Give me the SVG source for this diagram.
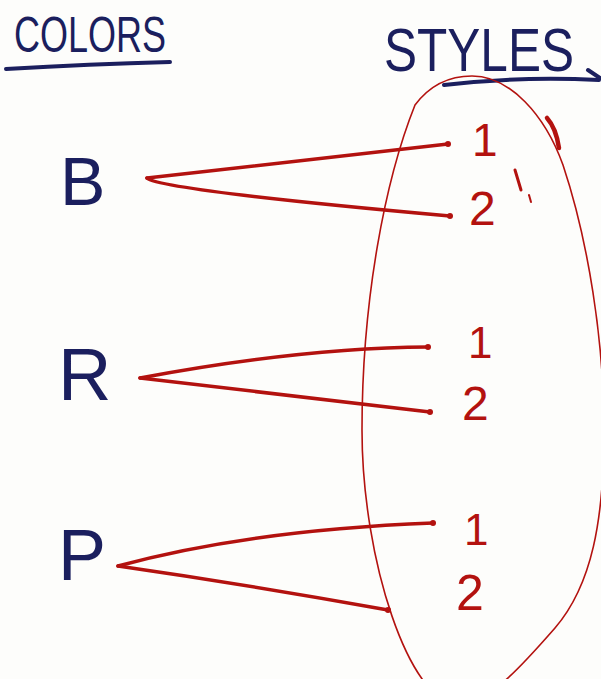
<svg xmlns="http://www.w3.org/2000/svg" width="601" height="679" viewBox="0 0 601 679">
<style>
.navy{fill:#1b1f5e;font-family:"Liberation Sans",sans-serif}
.red{fill:#b3120f;font-family:"Liberation Sans",sans-serif}
.ul{fill:none;stroke:#1b1f5e;stroke-width:4;stroke-linecap:round}
.edge{fill:none;stroke:#b3120f;stroke-width:3.5;stroke-linecap:round}
.dot{fill:#b3120f}
</style>
<rect width="601" height="679" fill="#fdfdfb"/>
<g id="heading-colors">
<text class="navy" x="14" y="52" font-size="50" textLength="152" lengthAdjust="spacingAndGlyphs">COLORS</text>
<path class="ul" d="M6 69 Q90 64 170 62"/>
</g>
<g id="heading-styles">
<text class="navy" x="384" y="71" font-size="62" textLength="190" lengthAdjust="spacingAndGlyphs">STYLES</text>
<path class="ul" d="M444 85 Q520 76 599 80"/>
<path class="ul" d="M588 70 L600 78"/>
</g>
<g id="set-styles">
<path d="M472 76 C510 76 545 115 563 165 C588 240 604 340 604 430 C604 520 592 585 555 628 C520 668 490 702 458 704 C410 705 362 560 362 430 C362 300 385 180 415 105 C430 85 450 76 472 76 Z" fill="none" stroke="#b3120f" stroke-width="1.6"/>
<path d="M547 118 Q556 128 559 148" fill="none" stroke="#b3120f" stroke-width="4.5" stroke-linecap="round"/>
<path d="M515 170 L521 190" stroke="#b3120f" stroke-width="3" stroke-linecap="round"/>
<path d="M529 195 L531 202" stroke="#b3120f" stroke-width="2" stroke-linecap="round"/>
</g>
<g id="node-B"><text class="navy" x="60" y="205" font-size="68">B</text></g>
<g id="node-R"><text class="navy" x="58" y="400" font-size="74">R</text></g>
<g id="node-P"><text class="navy" x="58" y="580" font-size="72">P</text></g>
<g id="node-B1"><text class="red" x="472" y="156" font-size="46">1</text></g>
<g id="node-B2"><text class="red" x="469" y="225" font-size="48">2</text></g>
<g id="node-R1"><text class="red" x="468" y="358" font-size="44">1</text></g>
<g id="node-R2"><text class="red" x="462" y="420" font-size="48">2</text></g>
<g id="node-P1"><text class="red" x="464" y="545" font-size="44">1</text></g>
<g id="node-P2"><text class="red" x="456" y="610" font-size="50">2</text></g>
<g id="connectors">
<path class="edge" d="M147 178 L448 144"/>
<path class="edge" d="M147 178 Q160 190 450 216"/>
<path class="edge" d="M140 378 Q300 348 428 347"/>
<path class="edge" d="M140 378 L430 412"/>
<path class="edge" d="M118 566 Q250 530 433 523"/>
<path class="edge" d="M118 566 Q250 585 388 610"/>
<circle class="dot" cx="448" cy="144" r="3"/>
<circle class="dot" cx="450" cy="216" r="3"/>
<circle class="dot" cx="428" cy="347" r="3"/>
<circle class="dot" cx="430" cy="412" r="3"/>
<circle class="dot" cx="433" cy="523" r="3"/>
<circle class="dot" cx="388" cy="610" r="3"/>
</g>
</svg>
